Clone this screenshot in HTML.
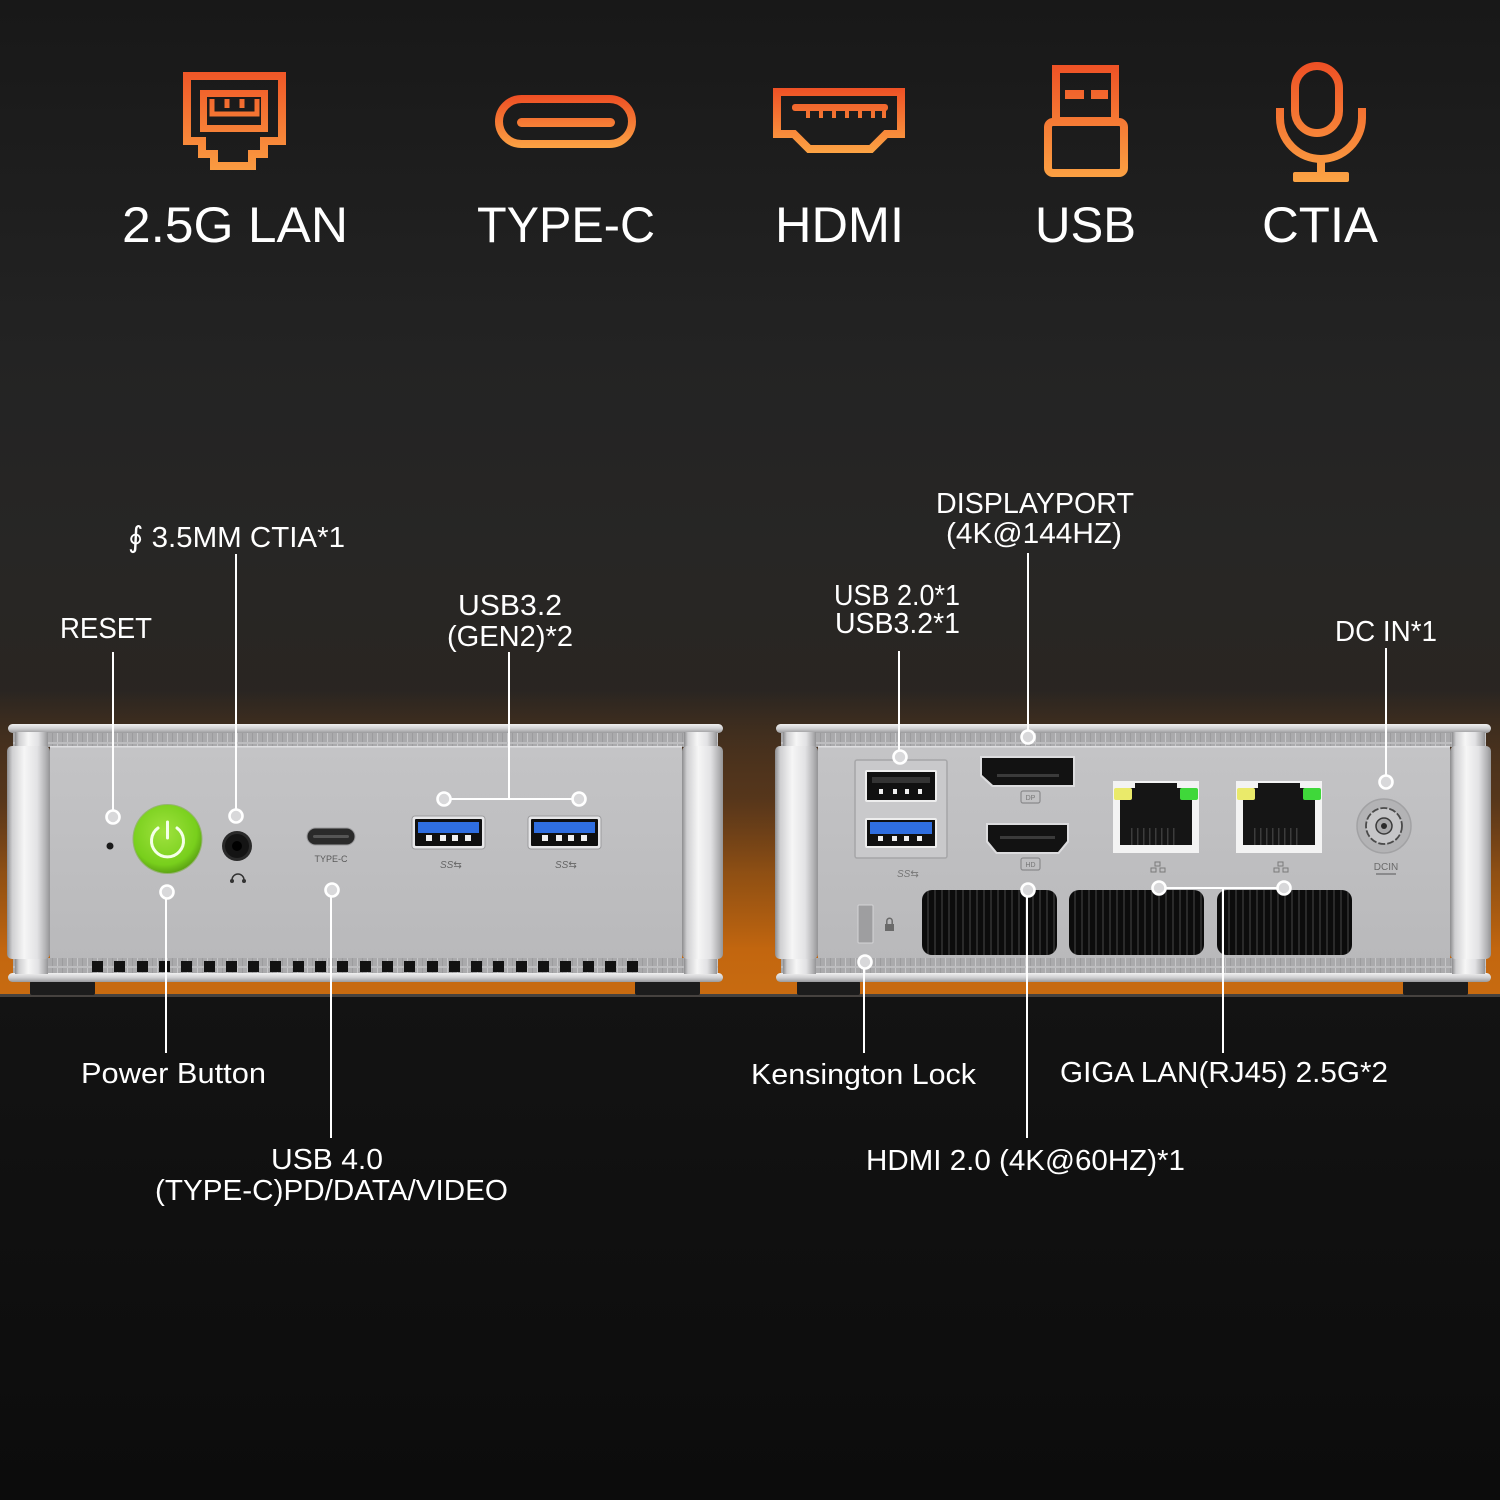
<!DOCTYPE html>
<html><head><meta charset="utf-8">
<style>
html,body{margin:0;padding:0;background:#151515;}
svg{display:block}
text{font-family:"Liberation Sans","DejaVu Sans",sans-serif;fill:#fff}
.lab{font-size:29px}
.ttl{font-size:50px}
</style></head><body>
<svg width="1500" height="1500" viewBox="0 0 1500 1500" xmlns="http://www.w3.org/2000/svg">
<defs>
 <linearGradient id="bg" x1="0" y1="0" x2="0" y2="1000" gradientUnits="userSpaceOnUse">
  <stop offset="0" stop-color="#181818"/>
  <stop offset="0.35" stop-color="#232323"/>
  <stop offset="0.55" stop-color="#272625"/>
  <stop offset="0.72" stop-color="#2a2521"/>
  <stop offset="1" stop-color="#2a2420"/>
 </linearGradient>
 <linearGradient id="glow" x1="0" y1="690" x2="0" y2="995" gradientUnits="userSpaceOnUse">
  <stop offset="0" stop-color="#b8600f" stop-opacity="0"/>
  <stop offset="0.35" stop-color="#8a4a14" stop-opacity="0.45"/>
  <stop offset="0.6" stop-color="#a85a10" stop-opacity="0.8"/>
  <stop offset="0.85" stop-color="#c2660f" stop-opacity="1"/>
  <stop offset="1" stop-color="#c86b10" stop-opacity="1"/>
 </linearGradient>
 <linearGradient id="floor" x1="0" y1="995" x2="0" y2="1500" gradientUnits="userSpaceOnUse">
  <stop offset="0" stop-color="#131313"/>
  <stop offset="1" stop-color="#0c0c0c"/>
 </linearGradient>
 <linearGradient id="org" x1="0" y1="0" x2="0" y2="1">
  <stop offset="0" stop-color="#ee4e24"/>
  <stop offset="1" stop-color="#fca645"/>
 </linearGradient>
 <linearGradient id="orgU" x1="0" y1="60" x2="0" y2="185" gradientUnits="userSpaceOnUse">
  <stop offset="0" stop-color="#ee4e24"/>
  <stop offset="1" stop-color="#fca645"/>
 </linearGradient>
 <linearGradient id="orgT" x1="0" y1="95" x2="0" y2="150" gradientUnits="userSpaceOnUse">
  <stop offset="0" stop-color="#ee4e24"/>
  <stop offset="1" stop-color="#fca645"/>
 </linearGradient>
 <linearGradient id="orgH" x1="0" y1="86" x2="0" y2="155" gradientUnits="userSpaceOnUse">
  <stop offset="0" stop-color="#ee4e24"/>
  <stop offset="1" stop-color="#fca645"/>
 </linearGradient>
 <linearGradient id="cyl" x1="0" y1="0" x2="1" y2="0">
  <stop offset="0" stop-color="#8c8c8e"/>
  <stop offset="0.12" stop-color="#cfcfd1"/>
  <stop offset="0.4" stop-color="#f6f6f6"/>
  <stop offset="0.7" stop-color="#e2e2e4"/>
  <stop offset="0.9" stop-color="#b2b2b4"/>
  <stop offset="1" stop-color="#949496"/>
 </linearGradient>
 <linearGradient id="lip" x1="0" y1="0" x2="0" y2="1">
  <stop offset="0" stop-color="#f0f0f0"/>
  <stop offset="0.5" stop-color="#d0d0d2"/>
  <stop offset="1" stop-color="#9a9a9c"/>
 </linearGradient>
 <linearGradient id="face" x1="0" y1="0" x2="0" y2="1">
  <stop offset="0" stop-color="#c4c4c6"/>
  <stop offset="1" stop-color="#b9b9bb"/>
 </linearGradient>
 <radialGradient id="green" cx="0.45" cy="0.4" r="0.6">
  <stop offset="0" stop-color="#9fe23e"/>
  <stop offset="0.8" stop-color="#78cf1c"/>
  <stop offset="1" stop-color="#5ea614"/>
 </radialGradient>
 <pattern id="vent" width="10" height="14" patternUnits="userSpaceOnUse">
  <rect width="10" height="14" fill="#aaaaac"/>
  <rect x="0" width="1" height="14" fill="#c6c6c8"/>
  <rect x="5" width="1" height="14" fill="#9c9c9e"/>
  <rect y="0" width="10" height="2" fill="#bdbdbf"/>
 </pattern>
 <pattern id="grill" width="7" height="10" patternUnits="userSpaceOnUse">
  <rect width="7" height="10" fill="#0c0c0c"/>
  <rect x="3" width="2" height="10" fill="#2a2a2a"/>
 </pattern>
 <g id="chassis">
  <rect x="1" y="724" width="715" height="9" rx="4.5" fill="url(#lip)"/>
  <rect x="6" y="733" width="705" height="14" fill="url(#vent)"/>
  <rect x="43" y="746" width="632" height="213" fill="url(#face)"/>
  <rect x="43" y="746" width="632" height="1.5" fill="#dedee0"/>
  <rect x="6" y="958" width="705" height="15" fill="url(#vent)"/>
  <rect x="1" y="973" width="715" height="9" rx="4.5" fill="url(#lip)"/>
  <rect x="8" y="732" width="33" height="16" fill="url(#cyl)"/>
  <rect x="8" y="957" width="33" height="17" fill="url(#cyl)"/>
  <rect x="677" y="732" width="33" height="16" fill="url(#cyl)"/>
  <rect x="677" y="957" width="33" height="17" fill="url(#cyl)"/>
  <rect x="0" y="746" width="43" height="213" rx="5" fill="url(#cyl)"/>
  <rect x="675" y="746" width="41" height="213" rx="5" fill="url(#cyl)"/>
 </g>
</defs>

<!-- background -->
<rect width="1500" height="1000" fill="url(#bg)"/>
<rect x="0" y="690" width="1500" height="306" fill="url(#glow)"/>
<rect x="0" y="995" width="1500" height="505" fill="url(#floor)"/>
<rect x="0" y="994" width="1500" height="3" fill="#46423f"/>

<!-- ICONS -->
<g fill="none" stroke-linejoin="miter">
 <!-- LAN -->
 <path d="M187,76 H282 V141 H264 V154 H252 V166 H214 V154 H202 V141 H187 Z" stroke="url(#orgU)" stroke-width="8"/>
 <rect x="203.5" y="93.5" width="61" height="35" stroke="url(#orgU)" stroke-width="7"/>
 <path d="M212,99 V114 H257 V99 M227,99 V108 M242,99 V108" stroke="url(#orgU)" stroke-width="5"/>
 <!-- Type C -->
 <rect x="499" y="99" width="133" height="45" rx="22.5" stroke="url(#orgT)" stroke-width="8"/>
 <rect x="517" y="118" width="98" height="9" rx="4.5" fill="url(#orgT)"/>
 <!-- HDMI -->
 <path d="M777,92 H901 V134 H886 L871,149 H809 L794,134 H777 Z" stroke="url(#orgH)" stroke-width="8"/>
 <rect x="792" y="104" width="96" height="7" rx="3" fill="url(#orgH)"/>
 <g fill="url(#orgH)">
  <rect x="806" y="109" width="4" height="9"/><rect x="819" y="109" width="4" height="9"/>
  <rect x="832" y="109" width="4" height="9"/><rect x="845" y="109" width="4" height="9"/>
  <rect x="858" y="109" width="4" height="9"/><rect x="871" y="109" width="4" height="9"/>
  <rect x="882" y="109" width="4" height="9"/>
 </g>
 <!-- USB -->
 <rect x="1056" y="69" width="59" height="52" stroke="url(#orgU)" stroke-width="8"/>
 <rect x="1048" y="122" width="76" height="51" rx="5" stroke="url(#orgU)" stroke-width="8"/>
 <rect x="1065" y="90" width="19" height="9" fill="url(#orgU)"/>
 <rect x="1091" y="90" width="17" height="9" fill="url(#orgU)"/>
 <!-- Mic -->
 <rect x="1299" y="66" width="44" height="67" rx="22" stroke="url(#orgU)" stroke-width="8" transform="translate(-4,0)"/>
 <path d="M1280,108 V118 A41,41 0 0 0 1362,118 V108" stroke="url(#orgU)" stroke-width="8"/>
 <path d="M1321,158 V174" stroke="url(#orgU)" stroke-width="8"/>
 <rect x="1293" y="172" width="56" height="10" rx="2" fill="url(#orgU)"/>
</g>

<!-- TITLES -->
<text class="ttl" x="122" y="242" textLength="226" lengthAdjust="spacingAndGlyphs">2.5G LAN</text>
<text class="ttl" x="477" y="242" textLength="178" lengthAdjust="spacingAndGlyphs">TYPE-C</text>
<text class="ttl" x="775" y="242" textLength="129" lengthAdjust="spacingAndGlyphs">HDMI</text>
<text class="ttl" x="1035" y="242" textLength="101" lengthAdjust="spacingAndGlyphs">USB</text>
<text class="ttl" x="1262" y="242" textLength="116" lengthAdjust="spacingAndGlyphs">CTIA</text>

<!-- FEET -->
<g fill="#1c1c1c">
 <rect x="30" y="981" width="65" height="14" rx="2"/>
 <rect x="635" y="981" width="65" height="14" rx="2"/>
 <rect x="797" y="981" width="63" height="14" rx="2"/>
 <rect x="1403" y="981" width="65" height="14" rx="2"/>
</g>

<!-- DEVICES -->
<use href="#chassis" x="7"/>
<use href="#chassis" x="775"/>

<!-- left device bottom vent squares -->
<g fill="#121212">
 <rect x="92" y="961" width="11" height="11"/><rect x="114" y="961" width="11" height="11"/>
 <rect x="137" y="961" width="11" height="11"/><rect x="159" y="961" width="11" height="11"/>
 <rect x="181" y="961" width="11" height="11"/><rect x="204" y="961" width="11" height="11"/>
 <rect x="226" y="961" width="11" height="11"/><rect x="248" y="961" width="11" height="11"/>
 <rect x="270" y="961" width="11" height="11"/><rect x="293" y="961" width="11" height="11"/>
 <rect x="315" y="961" width="11" height="11"/><rect x="337" y="961" width="11" height="11"/>
 <rect x="360" y="961" width="11" height="11"/><rect x="382" y="961" width="11" height="11"/>
 <rect x="404" y="961" width="11" height="11"/><rect x="427" y="961" width="11" height="11"/>
 <rect x="449" y="961" width="11" height="11"/><rect x="471" y="961" width="11" height="11"/>
 <rect x="493" y="961" width="11" height="11"/><rect x="516" y="961" width="11" height="11"/>
 <rect x="538" y="961" width="11" height="11"/><rect x="560" y="961" width="11" height="11"/>
 <rect x="583" y="961" width="11" height="11"/><rect x="605" y="961" width="11" height="11"/>
 <rect x="627" y="961" width="11" height="11"/>
</g>

<!-- LEFT DEVICE PORTS -->
<circle cx="110" cy="846" r="3.5" fill="#1a1a1a"/>
<circle cx="167.5" cy="839" r="35" fill="#6aa91e" opacity="0.5"/>
<circle cx="167.5" cy="839" r="34" fill="url(#green)"/>
<path d="M158,828 A16,16 0 1 0 177,828" fill="none" stroke="#f4ffe8" stroke-width="3" stroke-linecap="round"/>
<path d="M167.5,822 V838" stroke="#f4ffe8" stroke-width="3" stroke-linecap="round"/>
<circle cx="237" cy="846" r="15" fill="#2a2a2a"/>
<circle cx="237" cy="846" r="12" fill="#141414"/>
<circle cx="237" cy="846" r="5" fill="#000"/>
<path d="M232,880 A6,6 0 0 1 244,880" fill="none" stroke="#333" stroke-width="1.5"/>
<circle cx="232" cy="881" r="2" fill="#333"/><circle cx="244" cy="881" r="2" fill="#333"/>
<rect x="307" y="828" width="48" height="17" rx="8.5" fill="#2a2a2a" stroke="#9a9a9c" stroke-width="1"/>
<rect x="313" y="835" width="36" height="3" rx="1.5" fill="#555"/>
<text x="331" y="862" font-size="9" text-anchor="middle" style="fill:#5a5a5a">TYPE-C</text>

<!-- USB-A blue ports -->
<g>
 <rect x="412" y="816" width="73" height="33" rx="3" fill="#e6e6e8" stroke="#9c9c9e" stroke-width="1"/>
 <rect x="415" y="819" width="67" height="27" rx="1" fill="#0f0f0f"/>
 <rect x="418" y="822" width="61" height="11" fill="#2f6ee0"/>
 <g fill="#f0f0f0"><rect x="426" y="835" width="6" height="6"/><rect x="440" y="835" width="6" height="6"/><rect x="452" y="835" width="6" height="6"/><rect x="465" y="835" width="6" height="6"/></g>
 <text x="440" y="868" font-size="10" font-style="italic" style="fill:#666">SS⇆</text>
</g>
<g>
 <rect x="528" y="816" width="73" height="33" rx="3" fill="#e6e6e8" stroke="#9c9c9e" stroke-width="1"/>
 <rect x="531" y="819" width="67" height="27" rx="1" fill="#0f0f0f"/>
 <rect x="534" y="822" width="61" height="11" fill="#2f6ee0"/>
 <g fill="#f0f0f0"><rect x="542" y="835" width="6" height="6"/><rect x="556" y="835" width="6" height="6"/><rect x="568" y="835" width="6" height="6"/><rect x="581" y="835" width="6" height="6"/></g>
 <text x="555" y="868" font-size="10" font-style="italic" style="fill:#666">SS⇆</text>
</g>

<!-- RIGHT DEVICE PORTS -->
<rect x="855" y="760" width="92" height="98" rx="2" fill="#c9c9cb" stroke="#a6a6a8" stroke-width="1.5"/>
<rect x="865" y="770" width="72" height="32" rx="2" fill="#eee"/>
<rect x="867" y="772" width="68" height="28" fill="#101010"/>
<rect x="872" y="777" width="58" height="6" fill="#333"/>
<g fill="#eee"><rect x="879" y="789" width="4" height="5"/><rect x="893" y="789" width="4" height="5"/><rect x="905" y="789" width="4" height="5"/><rect x="918" y="789" width="4" height="5"/></g>
<rect x="865" y="818" width="72" height="30" rx="2" fill="#eee"/>
<rect x="867" y="820" width="68" height="26" fill="#101010"/>
<rect x="870" y="822" width="62" height="12" fill="#2f6ee0"/>
<g fill="#eee"><rect x="878" y="836" width="5" height="5"/><rect x="892" y="836" width="5" height="5"/><rect x="904" y="836" width="5" height="5"/><rect x="917" y="836" width="5" height="5"/></g>
<text x="897" y="877" font-size="10" font-style="italic" style="fill:#777">SS⇆</text>

<!-- DP -->
<polygon points="980,756 1075,756 1075,787 992,787 980,776" fill="#dcdcde"/>
<polygon points="982,758 1073,758 1073,785 993,785 982,775" fill="#121212"/>
<rect x="997" y="774" width="62" height="3" fill="#3a3a3a"/>
<rect x="1021" y="791" width="19" height="12" rx="2" fill="none" stroke="#8a8a8c" stroke-width="1.2"/>
<text x="1030.5" y="800" font-size="7" text-anchor="middle" style="fill:#777">DP</text>
<!-- HDMI -->
<polygon points="986,823 1069,823 1069,842 1059,854 996,854 986,842" fill="#dcdcde"/>
<polygon points="988,825 1067,825 1067,841 1058,852 997,852 988,841" fill="#121212"/>
<rect x="1000" y="836" width="55" height="3" fill="#3a3a3a"/>
<rect x="1021" y="858" width="19" height="12" rx="2" fill="none" stroke="#8a8a8c" stroke-width="1.2"/>
<text x="1030.5" y="867" font-size="7" text-anchor="middle" style="fill:#777">HD</text>

<!-- Vents -->
<rect x="922" y="890" width="135" height="65" rx="10" fill="url(#grill)"/>
<rect x="1069" y="890" width="135" height="65" rx="10" fill="url(#grill)"/>
<rect x="1217" y="890" width="135" height="65" rx="10" fill="url(#grill)"/>

<!-- Kensington -->
<rect x="858" y="905" width="15" height="38" rx="1" fill="#9e9ea0" stroke="#d4d4d6" stroke-width="1"/>
<rect x="885" y="924" width="9" height="7" fill="#6a6a6a"/>
<path d="M886.8,924 V921 A2.7,2.7 0 0 1 892.2,921 V924" fill="none" stroke="#6a6a6a" stroke-width="1.5"/>

<!-- RJ45 -->
<g>
 <rect x="1113" y="781" width="86" height="72" fill="#f3f3f3"/>
 <rect x="1120" y="788" width="72" height="57" fill="#151515"/>
 <rect x="1135" y="783" width="42" height="6" fill="#151515"/>
 <rect x="1114" y="788" width="18" height="12" rx="2" fill="#eaea6a"/>
 <rect x="1180" y="788" width="18" height="12" rx="2" fill="#3fd83a"/>
 <g fill="#3c3c3c"><rect x="1131" y="828" width="1.5" height="17"/><rect x="1137" y="828" width="1.5" height="17"/><rect x="1143" y="828" width="1.5" height="17"/><rect x="1149" y="828" width="1.5" height="17"/><rect x="1155" y="828" width="1.5" height="17"/><rect x="1161" y="828" width="1.5" height="17"/><rect x="1167" y="828" width="1.5" height="17"/><rect x="1173" y="828" width="1.5" height="17"/></g>
 <g fill="none" stroke="#7a7a7a" stroke-width="1"><rect x="1155" y="862" width="5" height="4"/><rect x="1151" y="868" width="5" height="4"/><rect x="1160" y="868" width="5" height="4"/></g>
</g>
<g>
 <rect x="1236" y="781" width="86" height="72" fill="#f3f3f3"/>
 <rect x="1243" y="788" width="72" height="57" fill="#151515"/>
 <rect x="1258" y="783" width="42" height="6" fill="#151515"/>
 <rect x="1237" y="788" width="18" height="12" rx="2" fill="#eaea6a"/>
 <rect x="1303" y="788" width="18" height="12" rx="2" fill="#3fd83a"/>
 <g fill="#3c3c3c"><rect x="1254" y="828" width="1.5" height="17"/><rect x="1260" y="828" width="1.5" height="17"/><rect x="1266" y="828" width="1.5" height="17"/><rect x="1272" y="828" width="1.5" height="17"/><rect x="1278" y="828" width="1.5" height="17"/><rect x="1284" y="828" width="1.5" height="17"/><rect x="1290" y="828" width="1.5" height="17"/><rect x="1296" y="828" width="1.5" height="17"/></g>
 <g fill="none" stroke="#7a7a7a" stroke-width="1"><rect x="1278" y="862" width="5" height="4"/><rect x="1274" y="868" width="5" height="4"/><rect x="1283" y="868" width="5" height="4"/></g>
</g>

<!-- DC IN -->
<circle cx="1384" cy="826" r="27" fill="#b3b3b5" stroke="#a2a2a4" stroke-width="1.5"/>
<circle cx="1384" cy="826" r="18" fill="#c6c6c8" stroke="#4a4a4a" stroke-width="1.8" stroke-dasharray="7 2"/>
<circle cx="1384" cy="826" r="8" fill="#a8a8aa" stroke="#3a3a3a" stroke-width="1.5"/>
<circle cx="1384" cy="826" r="3" fill="#2a2a2a"/>
<text x="1386" y="870" font-size="10" text-anchor="middle" style="fill:#6a6a6a">DCIN</text>
<rect x="1376" y="873" width="20" height="2" fill="#8a8a8c"/>

<!-- CALLOUT LINES -->
<g stroke="#fff" stroke-width="2" fill="none">
 <path d="M113,652 V810"/>
 <path d="M236,554 V809"/>
 <path d="M509,652 V799 M444,799 H579"/>
 <path d="M166,899 V1053"/>
 <path d="M331,897 V1138"/>
 <path d="M1028,553 V730"/>
 <path d="M899,651 V750"/>
 <path d="M1386,648 V775"/>
 <path d="M864,969 V1053"/>
 <path d="M1027,897 V1138"/>
 <path d="M1223,888 V1053 M1159,888 H1284"/>
</g>

<!-- MARKERS -->
<g fill="#d8d8da" stroke="#fff" stroke-width="2.6">
 <circle cx="113" cy="817" r="6.5"/>
 <circle cx="236" cy="816" r="6.5"/>
 <circle cx="167" cy="892" r="6.5"/>
 <circle cx="332" cy="890" r="6.5"/>
 <circle cx="444" cy="799" r="6.5"/>
 <circle cx="579" cy="799" r="6.5"/>
 <circle cx="900" cy="757" r="6.5"/>
 <circle cx="1028" cy="737" r="6.5"/>
 <circle cx="1028" cy="890" r="6.5"/>
 <circle cx="865" cy="962" r="6.5"/>
 <circle cx="1159" cy="888" r="6.5"/>
 <circle cx="1284" cy="888" r="6.5"/>
 <circle cx="1386" cy="782" r="6.5"/>
</g>

<!-- LABELS -->
<text class="lab" x="60" y="638" textLength="92" lengthAdjust="spacingAndGlyphs">RESET</text>
<text class="lab" x="128" y="547" textLength="217" lengthAdjust="spacingAndGlyphs">∮ 3.5MM CTIA*1</text>
<text class="lab" x="458" y="615" textLength="104" lengthAdjust="spacingAndGlyphs">USB3.2</text>
<text class="lab" x="447" y="646" textLength="126" lengthAdjust="spacingAndGlyphs">(GEN2)*2</text>
<text class="lab" x="936" y="513" textLength="198" lengthAdjust="spacingAndGlyphs">DISPLAYPORT</text>
<text class="lab" x="946" y="543" textLength="176" lengthAdjust="spacingAndGlyphs">(4K@144HZ)</text>
<text class="lab" x="834" y="605" textLength="126" lengthAdjust="spacingAndGlyphs">USB 2.0*1</text>
<text class="lab" x="835" y="633" textLength="125" lengthAdjust="spacingAndGlyphs">USB3.2*1</text>
<text class="lab" x="1335" y="641" textLength="102" lengthAdjust="spacingAndGlyphs">DC IN*1</text>
<text class="lab" x="81" y="1083" textLength="185" lengthAdjust="spacingAndGlyphs">Power Button</text>
<text class="lab" x="271" y="1169" textLength="112" lengthAdjust="spacingAndGlyphs">USB 4.0</text>
<text class="lab" x="155" y="1200" textLength="353" lengthAdjust="spacingAndGlyphs">(TYPE-C)PD/DATA/VIDEO</text>
<text class="lab" x="751" y="1084" textLength="225" lengthAdjust="spacingAndGlyphs">Kensington Lock</text>
<text class="lab" x="866" y="1170" textLength="319" lengthAdjust="spacingAndGlyphs">HDMI 2.0 (4K@60HZ)*1</text>
<text class="lab" x="1060" y="1082" textLength="328" lengthAdjust="spacingAndGlyphs">GIGA LAN(RJ45) 2.5G*2</text>
</svg>
</body></html>
